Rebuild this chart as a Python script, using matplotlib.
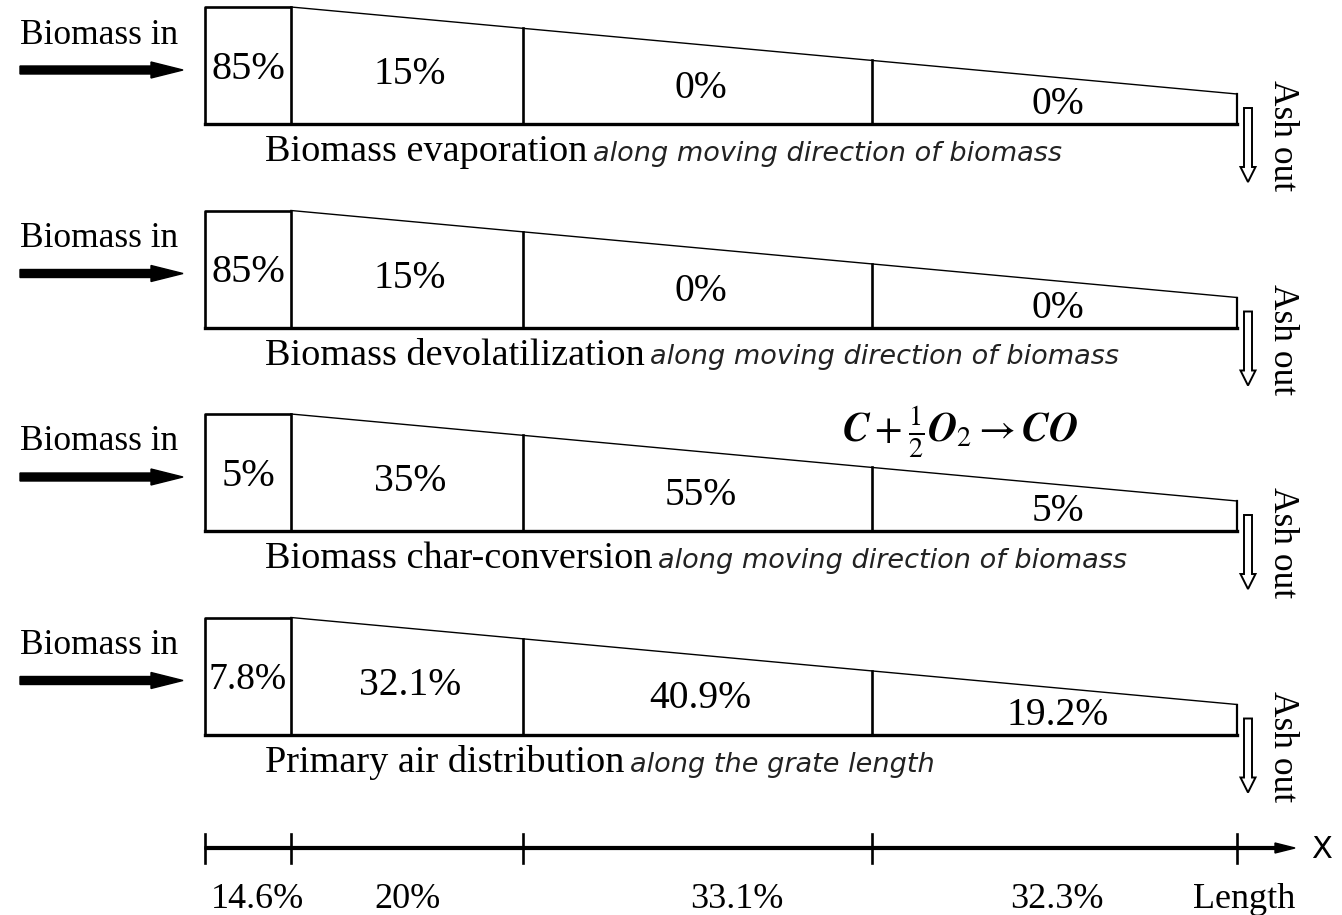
import matplotlib
matplotlib.use("Agg")
import matplotlib.pyplot as plt
from matplotlib.patches import FancyArrow

# ---------------- data ----------------
processes = ["Biomass evaporation", "Biomass devolatilization",
             "Biomass char-conversion", "Primary air distribution"]
qualifiers = ["along moving direction of biomass",
              "along moving direction of biomass",
              "along moving direction of biomass",
              "along the grate length"]
zone_values = [["85%", "15%", "0%", "0%"],
               ["85%", "15%", "0%", "0%"],
               ["5%", "35%", "55%", "5%"],
               ["7.8%", "32.1%", "40.9%", "19.2%"]]
length_labels = ["14.6%", "20%", "33.1%", "32.3%"]
# zone boundaries along the grate (drawing units)
zone_edges = [205, 291, 523, 872, 1237]

# ---------------- figure ----------------
W, H = 1342, 915
fig = plt.figure(figsize=(W / 100, H / 100), dpi=100)
ax = fig.add_axes([0, 0, 1, 1])
ax.set_xlim(0, W)
ax.set_ylim(H, 0)
ax.axis("off")

serif = "Liberation Serif"
ital = dict(family="DejaVu Sans", style="italic", fontsize=19.5, color="#222222")

bed_h_left = 117
bed_h_right = 30
panel_top0 = 7
panel_step = 203.5

x0, x1 = zone_edges[1], zone_edges[-1]


def top_at(x, top):
    return top + (bed_h_left - bed_h_right) * (x - x0) / (x1 - x0)


for i in range(4):
    top = panel_top0 + i * panel_step
    bot = top + bed_h_left
    # outline
    ax.plot([zone_edges[0], zone_edges[0], zone_edges[1]], [bot, top, top],
            color="black", lw=1.9, solid_capstyle="butt")
    ax.plot([zone_edges[0], zone_edges[-1]], [bot, bot], color="black", lw=2.4)
    ax.plot([x0, x1], [top, top_at(x1, top)], color="black", lw=1.0)
    ax.plot([x1, x1], [top_at(x1, top), bot], color="black", lw=1.6)
    for xe in zone_edges[1:-1]:
        ax.plot([xe, xe], [top_at(xe, top) if xe != x0 else top, bot],
                color="black", lw=1.9)
    # zone values
    for j, val in enumerate(zone_values[i]):
        xa, xb = zone_edges[j], zone_edges[j + 1]
        xc = (xa + xb) / 2
        t = top if j == 0 else top_at(xc, top)
        yc = (t + bot) / 2 + 4
        if j == 0:
            fs = 27 if len(val) > 3 else 29
        else:
            fs = 28.5
        ax.text(xc + (0 if j == 0 else 3), yc, val, family=serif,
                fontsize=fs, ha="center", va="center")
    # caption
    cap = ax.text(265, bot + 28, processes[i] + " ", family=serif, fontsize=27.5,
                  ha="left", va="center")
    fig.canvas.draw()
    bb = cap.get_window_extent()
    xend = ax.transData.inverted().transform((bb.x1, bb.y0))[0]
    ax.text(xend - 4, bot + 30, qualifiers[i], ha="left", va="center", **ital)
    # Biomass in
    ax.text(20, top + 28, "Biomass in", family=serif, fontsize=25.5,
            ha="left", va="center")
    ax.add_patch(FancyArrow(20, top + 63, 163, 0, width=8, head_width=16,
                            head_length=32, length_includes_head=True,
                            color="black"))
    # Ash out
    ax.add_patch(FancyArrow(1248, bot - 16, 0, 74, width=8, head_width=15,
                            head_length=15, length_includes_head=True,
                            facecolor="white", edgecolor="black", lw=1.4))
    ax.text(1283, bot + 12, "Ash out", family=serif, fontsize=25.5,
            rotation=-90, ha="center", va="center")

# reaction equation
ax.text(960, 432, r"$\mathbfit{C}+\frac{1}{2}\mathbfit{O}_2\rightarrow\mathbfit{CO}$",
        fontsize=29, ha="center", va="center", math_fontfamily="stix")

# length axis
ya = 848
ax.add_patch(FancyArrow(zone_edges[0], ya, 1295 - zone_edges[0], 0, width=2.8,
                        head_width=10, head_length=20, length_includes_head=True,
                        color="black"))
for xe in zone_edges:
    ax.plot([xe, xe], [ya - 14, ya + 15], color="black", lw=1.9)
ax.text(1322, ya + 1, "X", family="DejaVu Sans", fontsize=22, ha="center", va="center")
lab_x = [258, 408, 737, 1057]
for xl, lab in zip(lab_x, length_labels):
    ax.text(xl, 899, lab, family=serif, fontsize=26, ha="center", va="center")
ax.text(1244, 899, "Length", family=serif, fontsize=26, ha="center", va="center")

fig.savefig("out.png", dpi=100, facecolor="white")
